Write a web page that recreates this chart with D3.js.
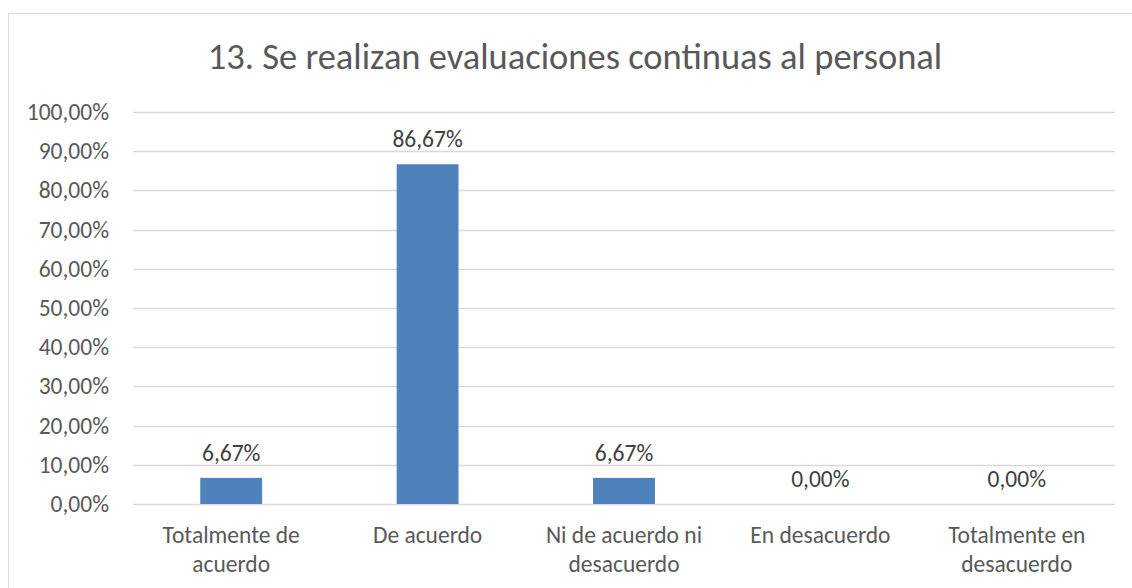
<!DOCTYPE html>
<html>
<head>
<meta charset="utf-8">
<script src="https://cdn.jsdelivr.net/npm/d3@7"></script>
<style>
  body { margin: 0; background: #fff; }
  text { font-family: Carlito, Calibri, "Open Sans", sans-serif; fill: #595959; }
</style>
</head>
<body>
<div id="chart"></div>
<script>
const width = 1132
const height = 588

const title = "13. Se realizan evaluaciones continuas al personal"
const categories = [
    ["Totalmente de", "acuerdo"],
    ["De acuerdo"],
    ["Ni de acuerdo ni", "desacuerdo"],
    ["En desacuerdo"],
    ["Totalmente en", "desacuerdo"]
]
const values = [6.67, 86.67, 6.67, 0, 0]
const yTicks = [0, 10, 20, 30, 40, 50, 60, 70, 80, 90, 100]

const plot = { left: 133, right: 1115, top: 112, bottom: 504 }
const fmt = v => v.toFixed(2).replace(".", ",") + "%"

let svg = d3.select("#chart")
    .append("svg")
    .attr("width", width)
    .attr("height", height)

// chart border (runs off the right / bottom edge)
svg.append("rect")
    .attr("x", 8.5)
    .attr("y", 13.5)
    .attr("width", 1200)
    .attr("height", 700)
    .style("fill", "#fff")
    .style("stroke", "#d9d9d9")
    .style("stroke-width", 1)

svg.append("text")
    .attr("x", 575)
    .attr("y", 69)
    .attr("text-anchor", "middle")
    .style("font-size", "36.5px")
    .text(title)

const x = d3.scaleBand()
    .domain(d3.range(categories.length))
    .range([plot.left, plot.right])
    .paddingInner(0.685)
    .paddingOuter(0.3425)

const y = d3.scaleLinear()
    .domain([0, 100])
    .range([plot.bottom, plot.top])

// gridlines
svg.append("g")
    .selectAll("line")
    .data(yTicks)
    .join("line")
    .attr("x1", plot.left)
    .attr("x2", plot.right)
    .attr("y1", d => Math.round(y(d)) + 0.5)
    .attr("y2", d => Math.round(y(d)) + 0.5)
    .style("stroke", "#d9d9d9")
    .style("stroke-width", 1.5)

// y axis labels
const yAxis = svg.append("g")
    .attr("transform", `translate(${plot.left},0)`)
    .call(d3.axisLeft(y).tickValues(yTicks).tickSize(0).tickPadding(24).tickFormat(fmt))
yAxis.select(".domain").remove()
yAxis.selectAll("text")
    .style("font-size", "23.5px")
    .style("fill", "#595959")
    .style("font-family", "Carlito, Calibri, 'Open Sans', sans-serif")

// bars
svg.append("g")
    .selectAll("rect")
    .data(values)
    .join("rect")
    .attr("x", (d, i) => x(i))
    .attr("y", d => y(d))
    .attr("width", x.bandwidth())
    .attr("height", d => y(0) - y(d))
    .style("fill", "#4f81bd")

// data labels
svg.append("g")
    .selectAll("text")
    .data(values)
    .join("text")
    .attr("x", (d, i) => x(i) + x.bandwidth() / 2)
    .attr("y", d => y(d) - 17)
    .attr("text-anchor", "middle")
    .style("font-size", "23.5px")
    .style("fill", "#404040")
    .text(d => fmt(d))

// category labels
const cat = svg.append("g")
    .selectAll("text")
    .data(categories)
    .join("text")
    .attr("x", (d, i) => x(i) + x.bandwidth() / 2)
    .attr("y", 543)
    .attr("text-anchor", "middle")
    .style("font-size", "23.5px")

cat.selectAll("tspan")
    .data(d => d)
    .join("tspan")
    .attr("x", function () { return d3.select(this.parentNode).attr("x") })
    .attr("dy", (d, i) => i === 0 ? 0 : 28.5)
    .text(d => d)
</script>
</body>
</html>
